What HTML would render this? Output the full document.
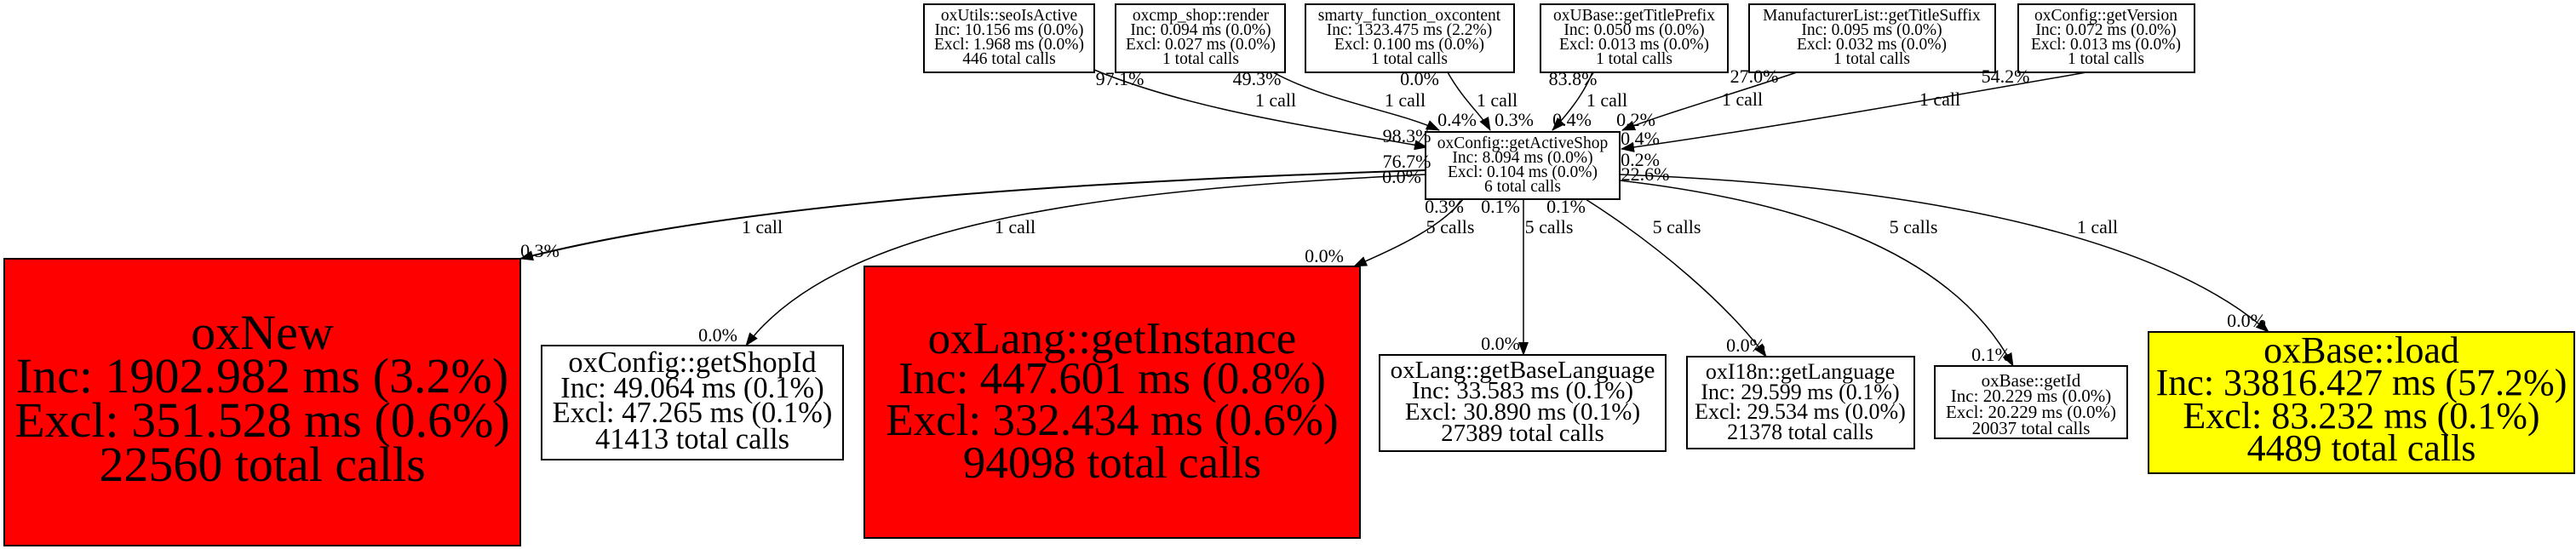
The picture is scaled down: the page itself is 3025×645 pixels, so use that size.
<!DOCTYPE html>
<html><head><meta charset="utf-8"><style>
html,body{margin:0;padding:0;background:#fff;width:3025px;height:645px;overflow:hidden}
svg{display:block}
text{font-family:"Liberation Serif",serif;text-anchor:middle;fill:#000}
</style></head><body>
<svg width="3025" height="645" viewBox="0 0 3025 645" xmlns="http://www.w3.org/2000/svg">
<defs>
<marker id="a" markerUnits="userSpaceOnUse" markerWidth="16" markerHeight="12" refX="15" refY="6" orient="auto">
<path d="M0,0 L16,6 L0,12 z" fill="#000"/>
</marker>
</defs>
<g fill="none" stroke="#000" stroke-width="1.5" marker-end="url(#a)">
<path d="M1285,82 C1400,130 1550,150 1676,173"/>
<path d="M1495,85 C1560,120 1640,130 1690,153"/>
<path d="M1700,85 C1720,120 1740,135 1750,153"/>
<path d="M1870,85 C1860,110 1840,135 1823,153"/>
<path d="M2110,85 C2020,115 1950,135 1905,153"/>
<path d="M2450,85 C2250,120 2050,155 1904,175"/>
<path d="M1674,200 C1300,212 880,235 611,304" stroke-width="2"/>
<path d="M1674,205 C1320,222 990,255 876,406"/>
<path d="M1718,234 C1690,270 1630,295 1590,313"/>
<path d="M1789,234 L1789,417"/>
<path d="M1862,234 C1950,290 2030,360 2074,419"/>
<path d="M1902,212 C2100,235 2290,290 2364,430"/>
<path d="M1902,205 C2300,220 2550,290 2664,390"/>
</g>
<g stroke="#000" stroke-width="2">
<rect x="1085" y="5" width="200" height="80" fill="#fff"/>
<rect x="1310" y="5" width="199" height="80" fill="#fff"/>
<rect x="1533" y="5" width="245" height="80" fill="#fff"/>
<rect x="1809" y="5" width="220" height="80" fill="#fff"/>
<rect x="2054" y="5" width="289" height="80" fill="#fff"/>
<rect x="2370" y="5" width="207" height="80" fill="#fff"/>
<rect x="1674" y="155" width="228" height="79" fill="#fff"/>
<rect x="5" y="304" width="606" height="337" fill="#f00"/>
<rect x="636" y="406" width="354" height="134" fill="#fff"/>
<rect x="1015" y="313" width="582" height="319" fill="#f00"/>
<rect x="1620" y="417" width="336" height="113" fill="#fff"/>
<rect x="1981" y="419" width="267" height="108" fill="#fff"/>
<rect x="2272" y="430" width="226" height="85" fill="#fff"/>
<rect x="2523" y="390" width="500" height="166" fill="#ff0"/>
</g>
<g font-size="19.5">
<text x="1185" y="24">oxUtils::seoIsActive</text>
<text x="1185" y="41">Inc: 10.156 ms (0.0%)</text>
<text x="1185" y="58">Excl: 1.968 ms (0.0%)</text>
<text x="1185" y="75">446 total calls</text>
<text x="1410" y="24">oxcmp_shop::render</text>
<text x="1410" y="41">Inc: 0.094 ms (0.0%)</text>
<text x="1410" y="58">Excl: 0.027 ms (0.0%)</text>
<text x="1410" y="75">1 total calls</text>
<text x="1655" y="24">smarty_function_oxcontent</text>
<text x="1655" y="41">Inc: 1323.475 ms (2.2%)</text>
<text x="1655" y="58">Excl: 0.100 ms (0.0%)</text>
<text x="1655" y="75">1 total calls</text>
<text x="1919" y="24">oxUBase::getTitlePrefix</text>
<text x="1919" y="41">Inc: 0.050 ms (0.0%)</text>
<text x="1919" y="58">Excl: 0.013 ms (0.0%)</text>
<text x="1919" y="75">1 total calls</text>
<text x="2198" y="24">ManufacturerList::getTitleSuffix</text>
<text x="2198" y="41">Inc: 0.095 ms (0.0%)</text>
<text x="2198" y="58">Excl: 0.032 ms (0.0%)</text>
<text x="2198" y="75">1 total calls</text>
<text x="2473" y="24">oxConfig::getVersion</text>
<text x="2473" y="41">Inc: 0.072 ms (0.0%)</text>
<text x="2473" y="58">Excl: 0.013 ms (0.0%)</text>
<text x="2473" y="75">1 total calls</text>
<text x="1788" y="174">oxConfig::getActiveShop</text>
<text x="1788" y="191">Inc: 8.094 ms (0.0%)</text>
<text x="1788" y="208">Excl: 0.104 ms (0.0%)</text>
<text x="1788" y="225">6 total calls</text>
</g>
<g font-size="58">
<text x="308" y="410">oxNew</text>
<text x="308" y="461">Inc: 1902.982 ms (3.2%)</text>
<text x="308" y="513">Excl: 351.528 ms (0.6%)</text>
<text x="308" y="565">22560 total calls</text>
</g>
<g font-size="53">
<text x="1306" y="415">oxLang::getInstance</text>
<text x="1306" y="462">Inc: 447.601 ms (0.8%)</text>
<text x="1306" y="511">Excl: 332.434 ms (0.6%)</text>
<text x="1306" y="561">94098 total calls</text>
</g>
<g font-size="34.5">
<text x="813" y="437">oxConfig::getShopId</text>
<text x="813" y="467">Inc: 49.064 ms (0.1%)</text>
<text x="813" y="496">Excl: 47.265 ms (0.1%)</text>
<text x="813" y="527">41413 total calls</text>
</g>
<g font-size="29">
<text x="1788" y="444">oxLang::getBaseLanguage</text>
<text x="1788" y="468">Inc: 33.583 ms (0.1%)</text>
<text x="1788" y="493">Excl: 30.890 ms (0.1%)</text>
<text x="1788" y="518">27389 total calls</text>
</g>
<g font-size="26">
<text x="2114" y="445">oxI18n::getLanguage</text>
<text x="2114" y="469">Inc: 29.599 ms (0.1%)</text>
<text x="2114" y="492">Excl: 29.534 ms (0.0%)</text>
<text x="2114" y="516">21378 total calls</text>
</g>
<g font-size="21">
<text x="2385" y="454">oxBase::getId</text>
<text x="2385" y="472">Inc: 20.229 ms (0.0%)</text>
<text x="2385" y="491">Excl: 20.229 ms (0.0%)</text>
<text x="2385" y="510">20037 total calls</text>
</g>
<g font-size="44">
<text x="2773" y="426">oxBase::load</text>
<text x="2773" y="464">Inc: 33816.427 ms (57.2%)</text>
<text x="2773" y="503">Excl: 83.232 ms (0.1%)</text>
<text x="2773" y="541">4489 total calls</text>
</g>
<g font-size="22">
<text x="1315" y="100">97.1%</text>
<text x="1498" y="125">1 call</text>
<text x="1652" y="167">98.3%</text>
<text x="1476" y="100">49.3%</text>
<text x="1650" y="125">1 call</text>
<text x="1711" y="148">0.4%</text>
<text x="1667" y="100">0.0%</text>
<text x="1758" y="125">1 call</text>
<text x="1778" y="148">0.3%</text>
<text x="1847" y="100">83.8%</text>
<text x="1887" y="125">1 call</text>
<text x="1846" y="148">0.4%</text>
<text x="2060" y="97">27.0%</text>
<text x="2046" y="124">1 call</text>
<text x="1921" y="148">0.2%</text>
<text x="2355" y="97">54.2%</text>
<text x="2278" y="124">1 call</text>
<text x="1926" y="170">0.4%</text>
<text x="1926" y="195">0.2%</text>
<text x="1932" y="212">22.6%</text>
<text x="1652" y="197">76.7%</text>
<text x="1646" y="215">0.0%</text>
<text x="1696" y="250">0.3%</text>
<text x="1762" y="250">0.1%</text>
<text x="1839" y="250">0.1%</text>
<text x="895" y="274">1 call</text>
<text x="1192" y="274">1 call</text>
<text x="1703" y="274">5 calls</text>
<text x="1819" y="274">5 calls</text>
<text x="1969" y="274">5 calls</text>
<text x="2247" y="274">5 calls</text>
<text x="2463" y="274">1 call</text>
<text x="634" y="302">0.3%</text>
<text x="843" y="401">0.0%</text>
<text x="1555" y="308">0.0%</text>
<text x="1762" y="411">0.0%</text>
<text x="2050" y="413">0.0%</text>
<text x="2338" y="424">0.1%</text>
<text x="2638" y="384">0.0%</text>
</g>
</svg>
</body></html>
